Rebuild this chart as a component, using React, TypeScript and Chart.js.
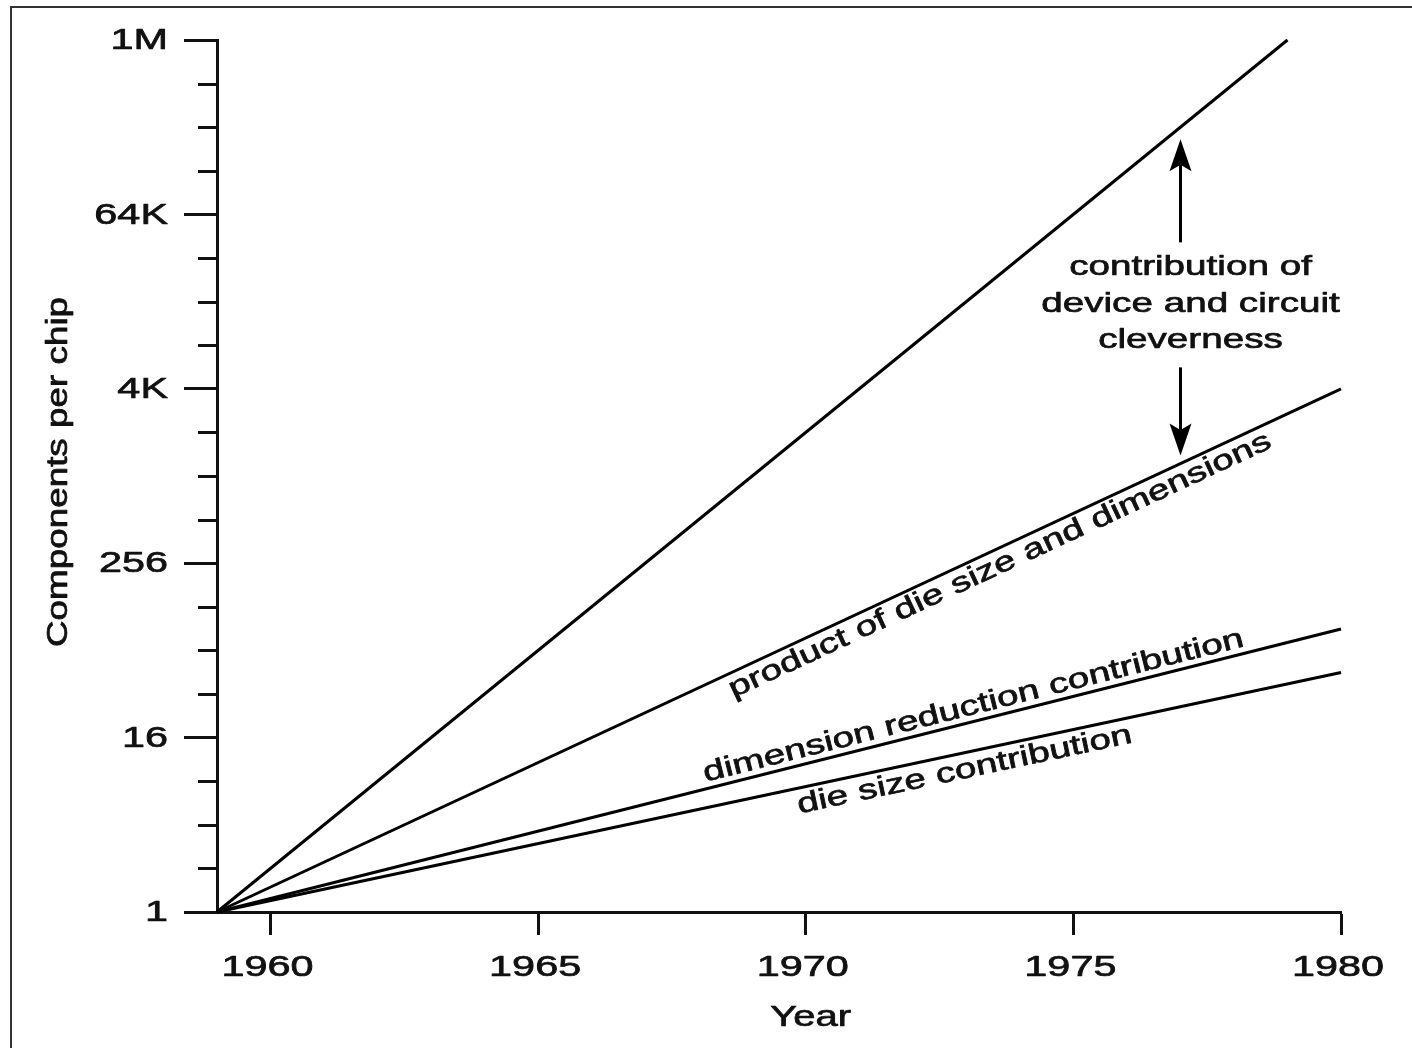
import React, { useEffect, useRef } from 'react';
import { Chart, registerables } from 'chart.js';

Chart.register(...registerables);

// ---- data ----
const seriesNames = [
  'device and circuit cleverness',
  'product of die size and dimensions',
  'dimension reduction contribution',
  'die size contribution',
];
const startYear = 1959;
const endYear = 1980;
const seriesEndYears = [1979, 1980, 1980, 1980];
const seriesStartValues = [1, 1, 1, 1];
const seriesEndValues = [1048576, 4096, 90, 45];

const xTickYears = [1960, 1965, 1970, 1975, 1980];
const yTickValues = [1, 16, 256, 4096, 65536, 1048576];
const yTickLabels = ['1', '16', '256', '4K', '64K', '1M'];
const yMinorValues = [2, 4, 8, 32, 64, 128, 512, 1024, 2048, 8192, 16384, 32768, 131072, 262144, 524288];

const xTitle = 'Year';
const yTitle = 'Components per chip';
const annotationLines = ['contribution of', 'device and circuit', 'cleverness'];
const lineLabelTexts = ['product of die size and dimensions', 'dimension reduction contribution', 'die size contribution'];

// ---- placement config (not data) ----
const arrowYear = 1977;
const lineLabelYears = [1973.5, 1973.2, 1972.9];
const lineLabelOffsets = [24, -7, 25]; // perpendicular baseline offset, + = below line

const FONT = '"Liberation Sans", Arial, Helvetica, sans-serif';
const SX = 1.38;
const INK = '#111';

function expAt(i: number, year: number) {
  const e0 = Math.log2(seriesStartValues[i]);
  const e1 = Math.log2(seriesEndValues[i]);
  return e0 + ((e1 - e0) * (year - startYear)) / (seriesEndYears[i] - startYear);
}

function stretched(ctx: CanvasRenderingContext2D, text: string, x: number, y: number, angle: number, size: number, align: CanvasTextAlign, baseline: CanvasTextBaseline, sx: number = SX) {
  ctx.save();
  ctx.translate(x, y);
  if (angle) ctx.rotate(angle);
  ctx.scale(sx, 1);
  ctx.font = `${size}px ${FONT}`;
  ctx.textAlign = align;
  ctx.textBaseline = baseline;
  ctx.fillStyle = INK;
  ctx.strokeStyle = INK;
  ctx.lineWidth = 0.7;
  ctx.lineJoin = 'round';
  ctx.fillText(text, 0, 0);
  ctx.strokeText(text, 0, 0);
  ctx.restore();
}

const overlay = {
  id: 'overlay',
  afterDraw(chart: any) {
    const ctx: CanvasRenderingContext2D = chart.ctx;
    const xs = chart.scales.x;
    const ys = chart.scales.y;
    const area = chart.chartArea;

    // frame (top and left edges of the figure)
    ctx.save();
    ctx.strokeStyle = '#333';
    ctx.lineWidth = 2;
    ctx.beginPath();
    ctx.moveTo(11, chart.height);
    ctx.lineTo(11, 7);
    ctx.lineTo(chart.width, 7);
    ctx.stroke();
    ctx.restore();

    // minor y ticks
    ctx.save();
    ctx.strokeStyle = INK;
    ctx.lineWidth = 3;
    yMinorValues.forEach((v) => {
      const y = Math.round(ys.getPixelForValue(Math.log2(v))) + 0.5;
      ctx.beginPath();
      ctx.moveTo(area.left, y);
      ctx.lineTo(area.left - 19, y);
      ctx.stroke();
    });
    ctx.restore();

    // y tick labels
    ys.ticks.forEach((t: any, i: number) => {
      const y = ys.getPixelForValue(t.value);
      stretched(ctx, yTickLabels[i], area.left - 49, y + 1, 0, 30, 'right', 'middle');
    });
    // x tick labels
    xs.ticks.forEach((t: any) => {
      const x = xs.getPixelForValue(t.value);
      stretched(ctx, String(t.value), x - 3, 976, 0, 30, 'center', 'alphabetic');
    });
    // axis titles
    stretched(ctx, xTitle, xs.getPixelForValue(1970) + 5, 1026, 0, 29, 'center', 'alphabetic');
    stretched(ctx, yTitle, 67, (area.top + area.bottom) / 2 - 4, -Math.PI / 2, 29, 'center', 'alphabetic', 1.27);

    // labels along lines
    lineLabelTexts.forEach((text, k) => {
      const i = k + 1;
      const x0 = xs.getPixelForValue(startYear);
      const y0 = ys.getPixelForValue(expAt(i, startYear));
      const x1 = xs.getPixelForValue(seriesEndYears[i]);
      const y1 = ys.getPixelForValue(expAt(i, seriesEndYears[i]));
      const a = Math.atan2(y1 - y0, x1 - x0);
      const px = xs.getPixelForValue(lineLabelYears[k]);
      const py = ys.getPixelForValue(expAt(i, lineLabelYears[k]));
      const d = lineLabelOffsets[k];
      const nx = -Math.sin(a);
      const ny = Math.cos(a);
      stretched(ctx, text, px + nx * d, py + ny * d, a, 28, 'center', 'alphabetic');
    });

    // annotation with arrows
    const ax = Math.round(xs.getPixelForValue(arrowYear)) + 0.5;
    const yTop = ys.getPixelForValue(expAt(0, arrowYear));
    const yProd = ys.getPixelForValue(expAt(1, arrowYear));
    const mid = (yTop + yProd) / 2;
    const baselines = [mid - 20, mid + 17, mid + 53];
    annotationLines.forEach((line, k) => {
      stretched(ctx, line, ax + 10, baselines[k], 0, 28, 'center', 'alphabetic');
    });

    const drawArrow = (fromY: number, tipY: number) => {
      const dir = tipY < fromY ? -1 : 1;
      const headLen = 32;
      const headHalf = 11;
      ctx.save();
      ctx.strokeStyle = '#000';
      ctx.fillStyle = '#000';
      ctx.lineWidth = 3;
      ctx.beginPath();
      ctx.moveTo(ax, fromY);
      ctx.lineTo(ax, tipY - dir * headLen * 0.8);
      ctx.stroke();
      ctx.beginPath();
      ctx.moveTo(ax, tipY);
      ctx.lineTo(ax - headHalf, tipY - dir * headLen);
      ctx.lineTo(ax, tipY - dir * headLen * 0.8);
      ctx.lineTo(ax + headHalf, tipY - dir * headLen);
      ctx.closePath();
      ctx.fill();
      ctx.restore();
    };
    drawArrow(baselines[0] - 33, yTop + 12);
    drawArrow(baselines[2] + 19, yProd - 8);
  },
};

export default function App() {
  const canvasRef = useRef<HTMLCanvasElement | null>(null);

  useEffect(() => {
    const canvas = canvasRef.current;
    if (!canvas) return;
    const chart = new Chart(canvas, {
      type: 'line',
      data: {
        datasets: seriesNames.map((name, i) => ({
          label: name,
          data: [
            { x: startYear, y: Math.log2(seriesStartValues[i]) },
            { x: seriesEndYears[i], y: Math.log2(seriesEndValues[i]) },
          ],
          borderColor: '#000',
          borderWidth: 3,
          pointRadius: 0,
          tension: 0,
          fill: false,
          clip: false as any,
        })),
      },
      options: {
        responsive: false,
        animation: false,
        devicePixelRatio: 1,
        layout: { padding: { top: 40, right: 71, left: 0, bottom: 0 } },
        plugins: { legend: { display: false }, tooltip: { enabled: false } },
        scales: {
          x: {
            type: 'linear',
            min: startYear,
            max: endYear,
            afterBuildTicks: (s: any) => {
              s.ticks = xTickYears.map((v) => ({ value: v }));
            },
            afterFit: (s: any) => {
              s.height = 136;
            },
            ticks: { display: false },
            grid: { display: true, drawOnChartArea: false, drawTicks: true, tickLength: 23, tickWidth: 3, tickColor: INK },
            border: { display: true, color: INK, width: 3 },
          },
          y: {
            type: 'linear',
            min: 0,
            max: 20,
            afterBuildTicks: (s: any) => {
              s.ticks = yTickValues.map((v) => ({ value: Math.log2(v) }));
            },
            afterFit: (s: any) => {
              s.width = 217;
            },
            ticks: { display: false },
            grid: { display: true, drawOnChartArea: false, drawTicks: true, tickLength: 33, tickWidth: 3, tickColor: INK },
            border: { display: true, color: INK, width: 3 },
          },
        },
      } as any,
      plugins: [overlay],
    });
    return () => chart.destroy();
  }, []);

  return (
    <div style={{ position: 'absolute', left: 0, top: 0, width: 1412, height: 1048, background: '#fff' }}>
      <canvas ref={canvasRef} width={1412} height={1048} style={{ display: 'block' }} />
    </div>
  );
}
